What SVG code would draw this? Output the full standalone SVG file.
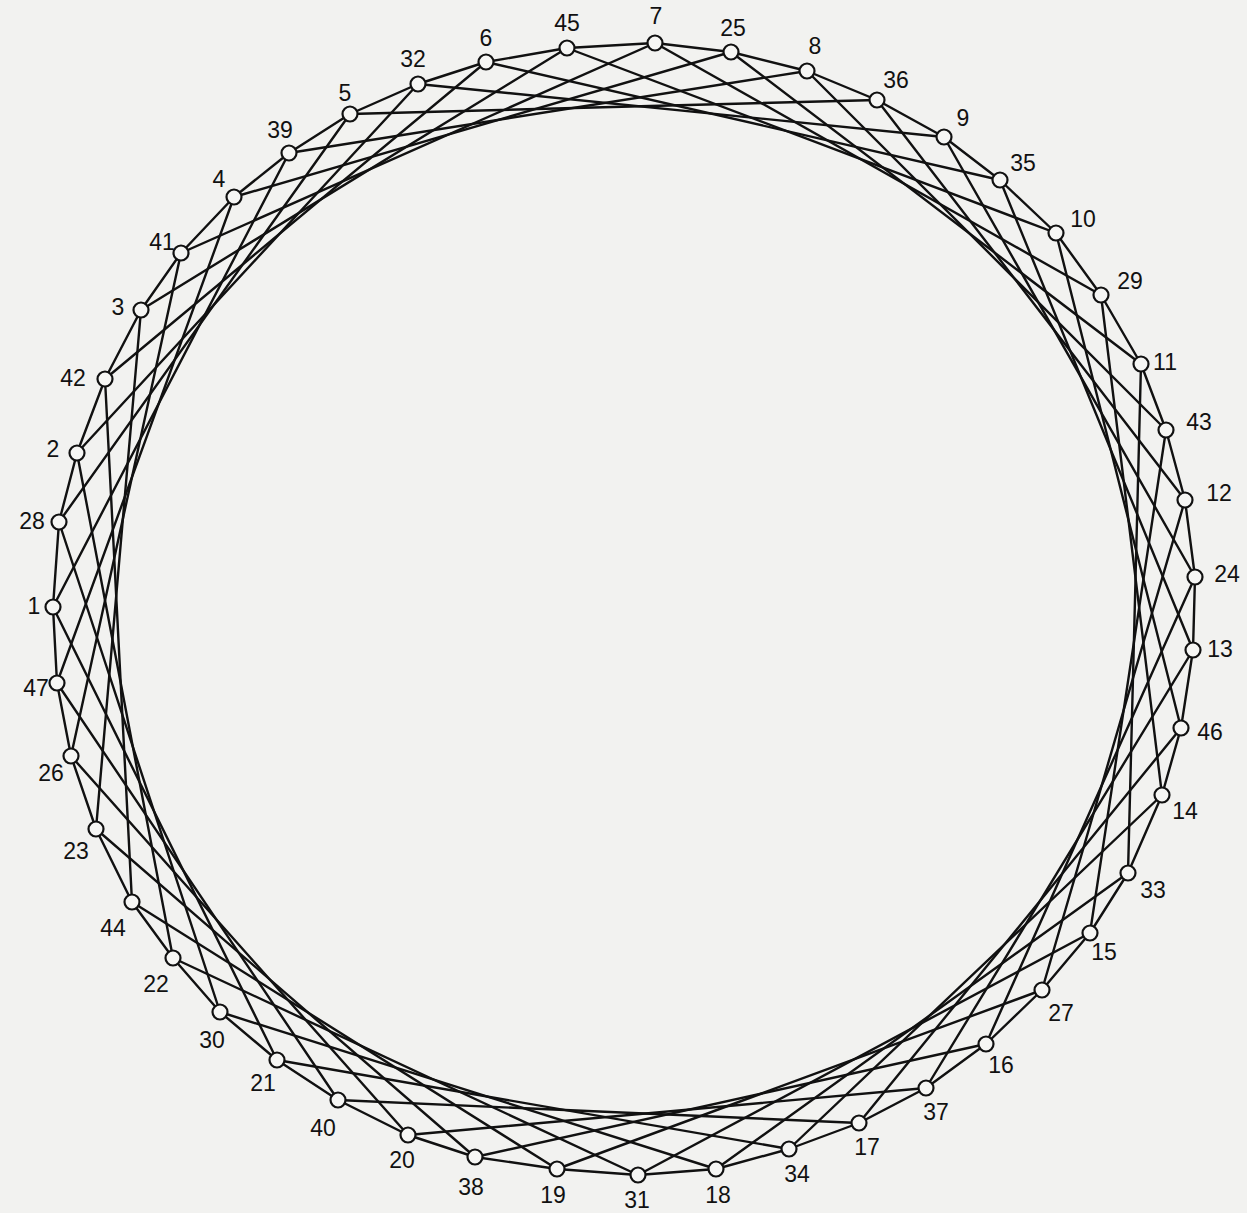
<svg xmlns="http://www.w3.org/2000/svg" width="1247" height="1213" viewBox="0 0 1247 1213">
<style>
.bg{fill:#f2f2f0}
.e{stroke:#111;stroke-width:2.4;fill:none;stroke-linecap:round}
.n circle{fill:#f6f6f4;stroke:#111;stroke-width:2.2}
.n text{font-family:"Liberation Sans",Arial,sans-serif;font-size:23px;fill:#111;text-anchor:middle;dominant-baseline:central}
</style>
<rect class="bg" x="0" y="0" width="1247" height="1213"/>
<g id="connectors">
<line class="e" x1="655" y1="43" x2="731" y2="52"/>
<line class="e" x1="731" y1="52" x2="807" y2="71"/>
<line class="e" x1="807" y1="71" x2="877" y2="100"/>
<line class="e" x1="877" y1="100" x2="944" y2="137"/>
<line class="e" x1="944" y1="137" x2="1000" y2="180"/>
<line class="e" x1="1000" y1="180" x2="1056" y2="233"/>
<line class="e" x1="1056" y1="233" x2="1101" y2="295"/>
<line class="e" x1="1101" y1="295" x2="1141" y2="364"/>
<line class="e" x1="1141" y1="364" x2="1166" y2="430"/>
<line class="e" x1="1166" y1="430" x2="1185" y2="500"/>
<line class="e" x1="1185" y1="500" x2="1195" y2="577"/>
<line class="e" x1="1195" y1="577" x2="1193" y2="650"/>
<line class="e" x1="1193" y1="650" x2="1181" y2="728"/>
<line class="e" x1="1181" y1="728" x2="1162" y2="795"/>
<line class="e" x1="1162" y1="795" x2="1128" y2="873"/>
<line class="e" x1="1128" y1="873" x2="1090" y2="933"/>
<line class="e" x1="1090" y1="933" x2="1042" y2="990"/>
<line class="e" x1="1042" y1="990" x2="986" y2="1044"/>
<line class="e" x1="986" y1="1044" x2="926" y2="1088"/>
<line class="e" x1="926" y1="1088" x2="859" y2="1123"/>
<line class="e" x1="859" y1="1123" x2="789" y2="1149"/>
<line class="e" x1="789" y1="1149" x2="716" y2="1169"/>
<line class="e" x1="716" y1="1169" x2="638" y2="1175"/>
<line class="e" x1="638" y1="1175" x2="557" y2="1169"/>
<line class="e" x1="557" y1="1169" x2="475" y2="1157"/>
<line class="e" x1="475" y1="1157" x2="408" y2="1135"/>
<line class="e" x1="408" y1="1135" x2="338" y2="1100"/>
<line class="e" x1="338" y1="1100" x2="277" y2="1060"/>
<line class="e" x1="277" y1="1060" x2="220" y2="1012"/>
<line class="e" x1="220" y1="1012" x2="173" y2="958"/>
<line class="e" x1="173" y1="958" x2="132" y2="902"/>
<line class="e" x1="132" y1="902" x2="96" y2="829"/>
<line class="e" x1="96" y1="829" x2="71" y2="756"/>
<line class="e" x1="71" y1="756" x2="57" y2="683"/>
<line class="e" x1="57" y1="683" x2="53" y2="607"/>
<line class="e" x1="53" y1="607" x2="59" y2="522"/>
<line class="e" x1="59" y1="522" x2="77" y2="453"/>
<line class="e" x1="77" y1="453" x2="105" y2="379"/>
<line class="e" x1="105" y1="379" x2="141" y2="310"/>
<line class="e" x1="141" y1="310" x2="181" y2="253"/>
<line class="e" x1="181" y1="253" x2="234" y2="197"/>
<line class="e" x1="234" y1="197" x2="289" y2="153"/>
<line class="e" x1="289" y1="153" x2="350" y2="114"/>
<line class="e" x1="350" y1="114" x2="418" y2="84"/>
<line class="e" x1="418" y1="84" x2="486" y2="62"/>
<line class="e" x1="486" y1="62" x2="567" y2="48"/>
<line class="e" x1="567" y1="48" x2="655" y2="43"/>
<line class="e" x1="655" y1="43" x2="1101" y2="295"/>
<line class="e" x1="731" y1="52" x2="1141" y2="364"/>
<line class="e" x1="807" y1="71" x2="1166" y2="430"/>
<line class="e" x1="877" y1="100" x2="1185" y2="500"/>
<line class="e" x1="944" y1="137" x2="1195" y2="577"/>
<line class="e" x1="1000" y1="180" x2="1193" y2="650"/>
<line class="e" x1="1056" y1="233" x2="1181" y2="728"/>
<line class="e" x1="1101" y1="295" x2="1162" y2="795"/>
<line class="e" x1="1141" y1="364" x2="1128" y2="873"/>
<line class="e" x1="1166" y1="430" x2="1090" y2="933"/>
<line class="e" x1="1185" y1="500" x2="1042" y2="990"/>
<line class="e" x1="1195" y1="577" x2="986" y2="1044"/>
<line class="e" x1="1193" y1="650" x2="926" y2="1088"/>
<line class="e" x1="1181" y1="728" x2="859" y2="1123"/>
<line class="e" x1="1162" y1="795" x2="789" y2="1149"/>
<line class="e" x1="1128" y1="873" x2="716" y2="1169"/>
<line class="e" x1="1090" y1="933" x2="638" y2="1175"/>
<line class="e" x1="1042" y1="990" x2="557" y2="1169"/>
<line class="e" x1="986" y1="1044" x2="475" y2="1157"/>
<line class="e" x1="926" y1="1088" x2="408" y2="1135"/>
<line class="e" x1="859" y1="1123" x2="338" y2="1100"/>
<line class="e" x1="789" y1="1149" x2="277" y2="1060"/>
<line class="e" x1="716" y1="1169" x2="220" y2="1012"/>
<line class="e" x1="638" y1="1175" x2="173" y2="958"/>
<line class="e" x1="557" y1="1169" x2="132" y2="902"/>
<line class="e" x1="475" y1="1157" x2="96" y2="829"/>
<line class="e" x1="408" y1="1135" x2="71" y2="756"/>
<line class="e" x1="338" y1="1100" x2="57" y2="683"/>
<line class="e" x1="277" y1="1060" x2="53" y2="607"/>
<line class="e" x1="220" y1="1012" x2="59" y2="522"/>
<line class="e" x1="173" y1="958" x2="77" y2="453"/>
<line class="e" x1="132" y1="902" x2="105" y2="379"/>
<line class="e" x1="96" y1="829" x2="141" y2="310"/>
<line class="e" x1="71" y1="756" x2="181" y2="253"/>
<line class="e" x1="57" y1="683" x2="234" y2="197"/>
<line class="e" x1="53" y1="607" x2="289" y2="153"/>
<line class="e" x1="59" y1="522" x2="350" y2="114"/>
<line class="e" x1="77" y1="453" x2="418" y2="84"/>
<line class="e" x1="105" y1="379" x2="486" y2="62"/>
<line class="e" x1="141" y1="310" x2="567" y2="48"/>
<line class="e" x1="181" y1="253" x2="655" y2="43"/>
<line class="e" x1="234" y1="197" x2="731" y2="52"/>
<line class="e" x1="289" y1="153" x2="807" y2="71"/>
<line class="e" x1="350" y1="114" x2="877" y2="100"/>
<line class="e" x1="418" y1="84" x2="944" y2="137"/>
<line class="e" x1="486" y1="62" x2="1000" y2="180"/>
<line class="e" x1="567" y1="48" x2="1056" y2="233"/>
</g>
<g id="nodes">
<g id="n7" class="n"><circle cx="655" cy="43" r="7.5"/><text x="656" y="16">7</text></g>
<g id="n25" class="n"><circle cx="731" cy="52" r="7.5"/><text x="733" y="28">25</text></g>
<g id="n8" class="n"><circle cx="807" cy="71" r="7.5"/><text x="815" y="46">8</text></g>
<g id="n36" class="n"><circle cx="877" cy="100" r="7.5"/><text x="896" y="80">36</text></g>
<g id="n9" class="n"><circle cx="944" cy="137" r="7.5"/><text x="963" y="118">9</text></g>
<g id="n35" class="n"><circle cx="1000" cy="180" r="7.5"/><text x="1023" y="163">35</text></g>
<g id="n10" class="n"><circle cx="1056" cy="233" r="7.5"/><text x="1083" y="219">10</text></g>
<g id="n29" class="n"><circle cx="1101" cy="295" r="7.5"/><text x="1130" y="281">29</text></g>
<g id="n11" class="n"><circle cx="1141" cy="364" r="7.5"/><text x="1165" y="362">11</text></g>
<g id="n43" class="n"><circle cx="1166" cy="430" r="7.5"/><text x="1199" y="422">43</text></g>
<g id="n12" class="n"><circle cx="1185" cy="500" r="7.5"/><text x="1219" y="493">12</text></g>
<g id="n24" class="n"><circle cx="1195" cy="577" r="7.5"/><text x="1227" y="574">24</text></g>
<g id="n13" class="n"><circle cx="1193" cy="650" r="7.5"/><text x="1220" y="649">13</text></g>
<g id="n46" class="n"><circle cx="1181" cy="728" r="7.5"/><text x="1210" y="732">46</text></g>
<g id="n14" class="n"><circle cx="1162" cy="795" r="7.5"/><text x="1185" y="811">14</text></g>
<g id="n33" class="n"><circle cx="1128" cy="873" r="7.5"/><text x="1153" y="890">33</text></g>
<g id="n15" class="n"><circle cx="1090" cy="933" r="7.5"/><text x="1104" y="952">15</text></g>
<g id="n27" class="n"><circle cx="1042" cy="990" r="7.5"/><text x="1061" y="1013">27</text></g>
<g id="n16" class="n"><circle cx="986" cy="1044" r="7.5"/><text x="1001" y="1065">16</text></g>
<g id="n37" class="n"><circle cx="926" cy="1088" r="7.5"/><text x="936" y="1112">37</text></g>
<g id="n17" class="n"><circle cx="859" cy="1123" r="7.5"/><text x="867" y="1147">17</text></g>
<g id="n34" class="n"><circle cx="789" cy="1149" r="7.5"/><text x="797" y="1174">34</text></g>
<g id="n18" class="n"><circle cx="716" cy="1169" r="7.5"/><text x="718" y="1195">18</text></g>
<g id="n31" class="n"><circle cx="638" cy="1175" r="7.5"/><text x="637" y="1200">31</text></g>
<g id="n19" class="n"><circle cx="557" cy="1169" r="7.5"/><text x="553" y="1195">19</text></g>
<g id="n38" class="n"><circle cx="475" cy="1157" r="7.5"/><text x="471" y="1187">38</text></g>
<g id="n20" class="n"><circle cx="408" cy="1135" r="7.5"/><text x="402" y="1160">20</text></g>
<g id="n40" class="n"><circle cx="338" cy="1100" r="7.5"/><text x="323" y="1128">40</text></g>
<g id="n21" class="n"><circle cx="277" cy="1060" r="7.5"/><text x="263" y="1083">21</text></g>
<g id="n30" class="n"><circle cx="220" cy="1012" r="7.5"/><text x="212" y="1040">30</text></g>
<g id="n22" class="n"><circle cx="173" cy="958" r="7.5"/><text x="156" y="984">22</text></g>
<g id="n44" class="n"><circle cx="132" cy="902" r="7.5"/><text x="113" y="928">44</text></g>
<g id="n23" class="n"><circle cx="96" cy="829" r="7.5"/><text x="76" y="851">23</text></g>
<g id="n26" class="n"><circle cx="71" cy="756" r="7.5"/><text x="51" y="773">26</text></g>
<g id="n47" class="n"><circle cx="57" cy="683" r="7.5"/><text x="36" y="688">47</text></g>
<g id="n1" class="n"><circle cx="53" cy="607" r="7.5"/><text x="34" y="606">1</text></g>
<g id="n28" class="n"><circle cx="59" cy="522" r="7.5"/><text x="32" y="521">28</text></g>
<g id="n2" class="n"><circle cx="77" cy="453" r="7.5"/><text x="53" y="449">2</text></g>
<g id="n42" class="n"><circle cx="105" cy="379" r="7.5"/><text x="73" y="378">42</text></g>
<g id="n3" class="n"><circle cx="141" cy="310" r="7.5"/><text x="118" y="307">3</text></g>
<g id="n41" class="n"><circle cx="181" cy="253" r="7.5"/><text x="162" y="242">41</text></g>
<g id="n4" class="n"><circle cx="234" cy="197" r="7.5"/><text x="219" y="179">4</text></g>
<g id="n39" class="n"><circle cx="289" cy="153" r="7.5"/><text x="280" y="130">39</text></g>
<g id="n5" class="n"><circle cx="350" cy="114" r="7.5"/><text x="345" y="93">5</text></g>
<g id="n32" class="n"><circle cx="418" cy="84" r="7.5"/><text x="413" y="59">32</text></g>
<g id="n6" class="n"><circle cx="486" cy="62" r="7.5"/><text x="486" y="38">6</text></g>
<g id="n45" class="n"><circle cx="567" cy="48" r="7.5"/><text x="567" y="23">45</text></g>
</g>
</svg>
